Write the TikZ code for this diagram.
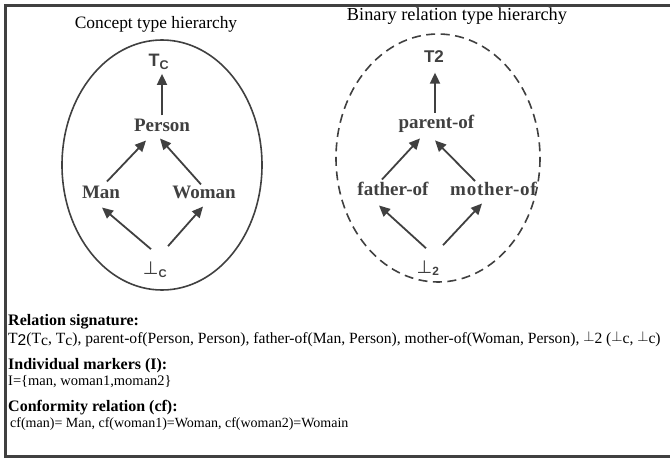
\documentclass[tikz,border=0pt]{standalone}
\usepackage{fontspec}
\setmainfont{Liberation Serif}
\newfontfamily\arialfont{Liberation Sans}
\newfontfamily\dejavufont{DejaVu Sans}
\usetikzlibrary{arrows.meta}
\definecolor{darkgrey}{HTML}{404040}
\tikzset{
  typ/.style={font=\bfseries\fontsize{19}{21}\selectfont, text=darkgrey, inner sep=1pt},
  top/.style={font=\arialfont\bfseries\fontsize{17}{19}\selectfont, text=darkgrey, inner sep=1pt},
  sub/.style={-{Triangle[length=11pt,width=10pt]}, line width=1.8pt, draw=darkgrey},
  hier/.style={line width=1.6pt, draw=darkgrey},
  htitle/.style={font=\fontsize{#1}{20}\selectfont},
  txt/.style={anchor=west, inner sep=0pt, font=\fontsize{#1}{16}\selectfont},
  txthead/.style={anchor=west, inner sep=0pt, font=\bfseries\fontsize{16}{18}\selectfont}
}
\newcommand{\lowc}[1]{\raisebox{-0.3ex}{#1}}
\newcommand{\botsym}{\raisebox{0.35ex}{$\perp$}}
\newcommand{\bigbot}{{\dejavufont\mdseries\fontsize{18}{20}\selectfont ⊥}}

\begin{document}
\begin{tikzpicture}[x=1pt,y=-1pt]
  \useasboundingbox (0,0) rectangle (670,458);
  \draw[line width=3pt, darkgrey] (5.5,5.5) rectangle (690,456.5);

  % concept types
  \node[htitle=17.4] (ctitle) at (156,24) {Concept type hierarchy};
  \draw[hier] (162,165) ellipse [x radius=100, y radius=125];
  \node[top, font=\arialfont\bfseries\fontsize{18}{20}\selectfont] (tc) at (159,62) {T\textsubscript{C}};
  \node[typ] (person) at (162,125) {Person};
  \node[typ] (man) at (101,192) {Man};
  \node[typ] (woman) at (204,192) {Woman};
  \node[top, font=\arialfont\bfseries\fontsize{16}{18}\selectfont] (botc) at (155,270) {\bigbot\textsubscript{C}};
  \draw[sub] ([yshift=2pt]person.north) -- ([xshift=3pt,yshift=-3pt]tc.south);
  \draw[sub] ([xshift=6pt,yshift=3pt]man.north) -- ([xshift=-16pt,yshift=-8pt]person.south);
  \draw[sub] ([xshift=-3pt]woman.north) -- ([xshift=-2pt,yshift=-6pt]person.south);
  \draw[sub] ([xshift=-4pt,yshift=12pt]botc.north) -- ([xshift=1pt,yshift=-8pt]man.south);
  \draw[sub] ([xshift=13pt,yshift=15pt]botc.north) -- ([xshift=-1pt,yshift=-7pt]woman.south);

  % relation types
  \node[htitle=18.3] (rtitle) at (457,16) {Binary relation type hierarchy};
  \draw[hier, dash pattern=on 9pt off 5.5pt] (438,158) ellipse [x radius=102, y radius=124];
  \node[top] (ttwo) at (434,56.5) {T2};
  \node[typ] (parent) at (436.5,124) {parent-of};
  \node[typ] (father) at (393,189) {father-of};
  \node[typ, font=\bfseries\fontsize{19}{21}\selectfont\addfontfeature{LetterSpace=4}] (mother) at (493.5,189) {mother-of};
  \node[top, font=\arialfont\bfseries\fontsize{17}{19}\selectfont] (bottwo) at (428,268) {\bigbot\textsubscript{2}};
  \draw[sub] ([xshift=-1.5pt,yshift=1.5pt]parent.north) -- ([xshift=1pt,yshift=-9pt]ttwo.south);
  \draw[sub] ([xshift=-11pt,yshift=1.5pt]father.north) -- ([xshift=-16.5pt,yshift=-4.5pt]parent.south);
  \draw[sub] ([xshift=-18.5pt]mother.north) -- ([xshift=-1.5pt,yshift=-6.5pt]parent.south);
  \draw[sub] ([xshift=-2pt,yshift=11pt]bottwo.north) -- ([xshift=-14pt,yshift=-8.5pt]father.south);
  \draw[sub] ([xshift=15pt,yshift=14pt]bottwo.north) -- ([xshift=-11.5pt,yshift=-6.5pt]mother.south);

  % support description
  \node[txthead] (sighead) at (8,322) {Relation signature:};
  \node[txt=15.6] (sigline) at (8,339) {T\lowc{\arialfont 2}(T\lowc{c}, T\lowc{c}), parent-of(Person, Person), father-of(Man, Person), mother-of(Woman, Person), \botsym2 (\botsym c, \botsym c)};
  \node[txthead] (markhead) at (8,366) {Individual markers (I):};
  \node[txt=14.5] (markline) at (8,382) {I=\{man, woman1,moman2\}};
  \node[txthead] (confhead) at (8,408) {Conformity relation (cf):};
  \node[txt=14] (confline) at (10,424) {cf(man)= Man, cf(woman1)=Woman, cf(woman2)=Womain};
\end{tikzpicture}
\end{document}
